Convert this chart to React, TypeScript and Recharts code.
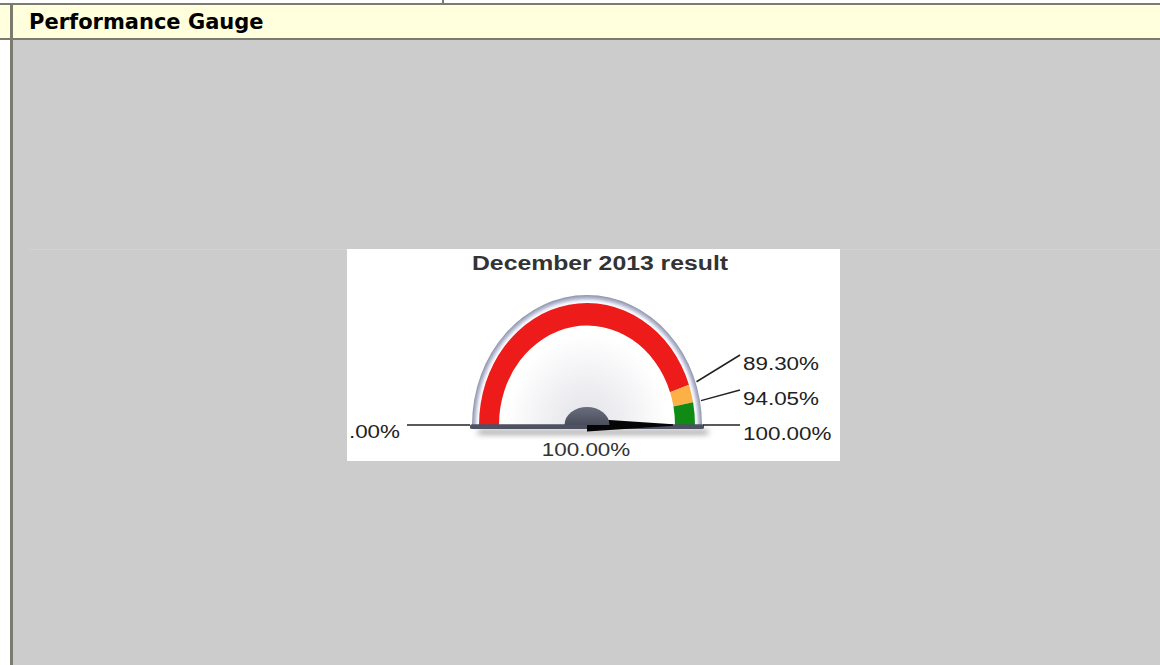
import React from "react";
import { PieChart, Pie, Cell, Customized } from "recharts";

const PANEL_TITLE = "Performance Gauge";
const CHART_TITLE = "December 2013 result";
const GAUGE_MIN = 0;
const GAUGE_MAX = 100;
const MIN_LABEL = ".00%"; // the picture cuts the leading digit off at its edge
const bandNames = ["Below target", "Near target", "On target"];
const bandEnds = [89.3, 94.05, 100];
const bandColors = ["#ee1b1b", "#fcb045", "#0f8a12"];
const actualValue = 100;

// gauge picture geometry
const W = 493;
const H = 212;
const CX = 240;
const CY = 176;
const SY = 1.13; // the original gauge picture is a bit taller than wide
const HUB_SY = 0.8; // the hub is a flattened dome
const R_BEZEL = 115;
const R_BAND_OUT = 108;
const R_BAND_IN = 88;
const R_HUB = 22.5;
const TX = 1.18; // horizontal stretch of the picture's text

const fmt = (v: number) => `${v.toFixed(2)}%`;
const toAngle = (v: number) => 180 - ((v - GAUGE_MIN) / (GAUGE_MAX - GAUGE_MIN)) * 180;
const rad = (a: number) => (a * Math.PI) / 180;

const bandData = bandNames.map((name, i) => ({
  name,
  value: bandEnds[i] - (i === 0 ? GAUGE_MIN : bandEnds[i - 1]),
}));

// threshold label lines start on the bezel and end stacked 35px apart
const labelStarts = bandEnds.map((v) => {
  const a = rad(toAngle(v));
  return { x: CX + (R_BEZEL + 1) * Math.cos(a), y: CY - (R_BEZEL + 1) * SY * Math.sin(a) };
});
const labelYs: number[] = [];
for (let i = bandEnds.length - 1; i >= 0; i--) {
  const next = i === bandEnds.length - 1 ? Infinity : labelYs[i + 1] - 35;
  labelYs[i] = Math.min(labelStarts[i].y, next);
}

const font = "'Liberation Sans', Arial, sans-serif";

const StretchText = ({ x, y, anchor, size, weight, fill, children }: any) => (
  <text
    transform={`translate(${x} ${y}) scale(${TX} 1)`}
    textAnchor={anchor}
    fontSize={size}
    fontWeight={weight}
    fontFamily={font}
    fill={fill}
  >
    {children}
  </text>
);

const GaugeDefs = () => (
  <defs>
    <radialGradient id="bezelGrad" gradientUnits="userSpaceOnUse" cx={CX} cy={CY} r={R_BEZEL}>
      <stop offset="0" stopColor="#e2e3e7" />
      <stop offset="0.35" stopColor="#f0f0f3" />
      <stop offset="0.7" stopColor="#ffffff" />
      <stop offset="0.94" stopColor="#ffffff" />
      <stop offset="0.955" stopColor="#eceef6" />
      <stop offset="0.975" stopColor="#bcc0d4" />
      <stop offset="1" stopColor="#8d92aa" />
    </radialGradient>
    <linearGradient id="hubGrad" x1="0" y1="0" x2="0" y2="1">
      <stop offset="0" stopColor="#6a6e7c" />
      <stop offset="1" stopColor="#4a4e5c" />
    </linearGradient>
    <filter id="baseShadow" x="-20%" y="-200%" width="140%" height="500%">
      <feGaussianBlur stdDeviation="3" />
    </filter>
  </defs>
);

// base bar and needle (pointing at the actual value); drawn beneath the hub
const BaseNeedle = () => {
  const a = rad(toAngle(actualValue));
  const dx = Math.cos(a);
  const dy = -Math.sin(a);
  const px = -dy;
  const py = dx;
  const len = R_BAND_IN - 2;
  const tipX = CX + dx * len;
  const tipY = CY + dy * len;
  const pts = [
    [CX + px * 8, CY + py * 8],
    [tipX + px * 0.8, tipY + py * 0.8],
    [tipX - px * 0.8, tipY - py * 0.8],
    [CX - px * 8, CY - py * 8],
  ]
    .map((p) => p.join(","))
    .join(" ");
  return (
    <g>
      <rect
        x={CX - R_BEZEL + 6}
        y={CY + 5}
        width={R_BEZEL * 2}
        height={8}
        fill="#777"
        opacity={0.5}
        filter="url(#baseShadow)"
      />
      <rect x={CX - R_BEZEL - 2} y={CY - 1} width={R_BEZEL * 2 + 4} height={6} rx={2} fill="#4d5161" />
      <polygon points={pts} fill="#050505" />
    </g>
  );
};

const renderThreshold = (props: any) => {
  const i = props.index;
  const s = labelStarts[i];
  const ex = CX + 153;
  const ey = labelYs[i];
  return (
    <g key={`thr-${i}`}>
      {i === 0 && (
        <g>
          <line x1={CX - R_BEZEL - 2} y1={CY} x2={CX - 180} y2={CY} stroke="#222" strokeWidth={1.5} />
          <StretchText x={CX - 187} y={CY + 13} anchor="end" size={19} fill="#222">
            {MIN_LABEL}
          </StretchText>
        </g>
      )}
      <line x1={s.x} y1={s.y} x2={ex} y2={ey} stroke="#222" strokeWidth={1.5} />
      <StretchText x={ex + 3} y={ey + 15} anchor="start" size={19} fill="#222">
        {fmt(bandEnds[i])}
      </StretchText>
    </g>
  );
};

const Titles = () => (
  <g>
    <StretchText x={CX + 13} y={21} anchor="middle" size={21} weight="bold" fill="#333">
      {CHART_TITLE}
    </StretchText>
    <StretchText x={CX - 1} y={CY + 31} anchor="middle" size={19} fill="#333">
      {fmt(actualValue)}
    </StretchText>
  </g>
);

export default function App() {
  const m = { top: 0, right: 0, bottom: 0, left: 0 };
  const layer = (sy: number): React.CSSProperties => ({
    position: "absolute",
    left: 0,
    top: 0,
    transform: `scaleY(${sy})`,
    transformOrigin: `${CX}px ${CY}px`,
  });
  return (
    <div
      style={{
        position: "absolute",
        left: 0,
        top: 0,
        width: 1160,
        height: 665,
        background: "#ffffff",
        overflow: "hidden",
      }}
    >
      <div style={{ position: "absolute", left: 442, top: 0, width: 2, height: 3, background: "#7b7b70" }} />
      <div style={{ position: "absolute", left: 0, top: 3, width: 1160, height: 2, background: "#7b7b70" }} />
      <div style={{ position: "absolute", left: 0, top: 5, width: 1160, height: 33, background: "#ffffdd" }} />
      <div style={{ position: "absolute", left: 0, top: 38, width: 1160, height: 2, background: "#7b7b70" }} />
      <div style={{ position: "absolute", left: 10, top: 3, width: 3, height: 662, background: "#7b7b70" }} />
      <div style={{ position: "absolute", left: 13, top: 40, width: 1147, height: 625, background: "#cccccc" }} />
      <div style={{ position: "absolute", left: 29, top: 249, width: 1131, height: 1, background: "#d3d3d3" }} />
      <div
        style={{
          position: "absolute",
          left: 29,
          top: 6,
          lineHeight: "33px",
          fontFamily: "'DejaVu Sans', Verdana, sans-serif",
          fontWeight: "bold",
          fontSize: 21,
          color: "#000",
          whiteSpace: "nowrap",
        }}
      >
        {PANEL_TITLE}
      </div>

      <div
        style={{
          position: "absolute",
          left: 347,
          top: 249,
          width: W,
          height: H,
          background: "#ffffff",
          overflow: "hidden",
        }}
      >
        {/* dial face and coloured bands */}
        <div style={layer(SY)}>
          <PieChart width={W} height={H} margin={m}>
            <Customized component={<GaugeDefs />} />
            <Pie
              data={[{ name: "face", value: 1 }]}
              dataKey="value"
              cx={CX}
              cy={CY}
              startAngle={180}
              endAngle={0}
              innerRadius={0}
              outerRadius={R_BEZEL}
              fill="url(#bezelGrad)"
              stroke="none"
              isAnimationActive={false}
            />
            <Pie
              data={bandData}
              dataKey="value"
              nameKey="name"
              cx={CX}
              cy={CY}
              startAngle={180}
              endAngle={0}
              innerRadius={R_BAND_IN}
              outerRadius={R_BAND_OUT}
              stroke="none"
              isAnimationActive={false}
            >
              {bandData.map((d, i) => (
                <Cell key={d.name} fill={bandColors[i]} />
              ))}
            </Pie>
          </PieChart>
        </div>

        {/* base, needle and hub */}
        <div style={layer(HUB_SY)}>
          <PieChart width={W} height={H} margin={m}>
            <Customized component={<BaseNeedle />} />
            <Pie
              data={[{ name: "hub", value: 1 }]}
              dataKey="value"
              cx={CX}
              cy={CY}
              startAngle={180}
              endAngle={0}
              innerRadius={0}
              outerRadius={R_HUB}
              fill="url(#hubGrad)"
              stroke="none"
              isAnimationActive={false}
            />
          </PieChart>
        </div>

        {/* labels */}
        <div style={{ position: "absolute", left: 0, top: 0 }}>
          <PieChart width={W} height={H} margin={m}>
            <Pie
              data={bandData}
              dataKey="value"
              nameKey="name"
              cx={CX}
              cy={CY}
              startAngle={180}
              endAngle={0}
              innerRadius={0}
              outerRadius={R_BEZEL}
              fill="none"
              stroke="none"
              label={renderThreshold}
              labelLine={false}
              isAnimationActive={false}
            />
            <Customized component={<Titles />} />
          </PieChart>
        </div>
      </div>
    </div>
  );
}
